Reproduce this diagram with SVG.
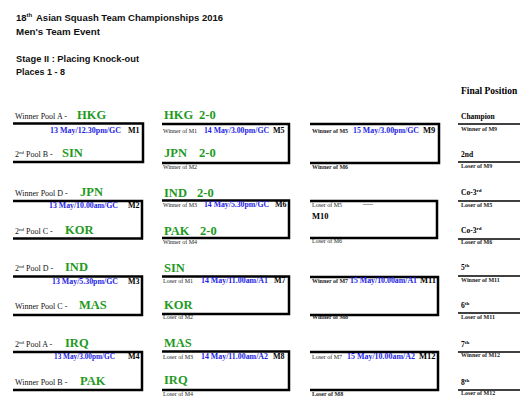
<svg xmlns="http://www.w3.org/2000/svg" width="520" height="407" viewBox="0 0 520 407">
<style>
text{font-family:"Liberation Serif","Times New Roman",serif;fill:#000}
.hdr{font-family:"Liberation Sans",Arial,sans-serif;font-weight:bold;font-size:9.5px;fill:#111}
.lbl{font-size:8px;fill:#111}
.sup{font-size:5px}
.team{font-weight:bold;font-size:12.5px;fill:#1f9a1f}
.date{font-weight:bold;font-size:8px;fill:#1e1ee6}
.mno{font-weight:bold;font-size:8px}
.mno3{font-weight:bold;font-size:8.5px}
.tiny{font-size:6px;fill:#222}
.tinyb{font-size:6px;font-weight:bold;fill:#222}
.pos{font-weight:bold;font-size:7.5px}
.br{fill:none;stroke:#000;stroke-width:2.5;stroke-linejoin:miter}
.fl{stroke:#000;stroke-width:1.5}
</style>

<g id="title">
<text class="hdr" x="16" y="21">18</text>
<text class="hdr" x="26.5" y="17" style="font-size:6px">th</text>
<text class="hdr" x="36" y="21" textLength="187" lengthAdjust="spacingAndGlyphs">Asian Squash Team Championships 2016</text>
<text class="hdr" x="16" y="35" textLength="84" lengthAdjust="spacingAndGlyphs">Men's Team Event</text>
<text class="hdr" x="16" y="62" textLength="123" lengthAdjust="spacingAndGlyphs">Stage II : Placing Knock-out</text>
<text class="hdr" x="16" y="75" textLength="49" lengthAdjust="spacingAndGlyphs">Places 1 - 8</text>
</g>

<g id="connectors">
<polyline class="br" points="13,123.5 143,123.5 143,162 13,162"/>
<polyline class="br" points="13,201 142,201 142,238.5 13,238.5"/>
<polyline class="br" points="13,276.5 142,276.5 142,315 13,315"/>
<polyline class="br" points="13,352 142,352 142,390 13,390"/>
<polyline class="br" points="162,124 289,124 289,163 162,163"/>
<polyline class="br" points="162,200.5 289,200.5 289,238 162,238"/>
<polyline class="br" points="162,276.5 289,276.5 289,314 162,314"/>
<polyline class="br" points="162,351.5 289,351.5 289,390 162,390"/>
<polyline class="br" points="310,124 439,124 439,163 310,163"/>
<polyline class="br" points="310,201 437,201 437,238 310,238"/>
<polyline class="br" points="310,277 438,277 438,315 310,315"/>
<polyline class="br" points="310,352 438,352 438,390 310,390"/>
</g>

<g id="M1">
<text class="lbl" x="15" y="119">Winner Pool A -</text>
<text class="team" x="77" y="119">HKG</text>
<text class="date" x="50" y="133" textLength="71" lengthAdjust="spacingAndGlyphs">13 May/12.30pm/GC</text>
<text class="mno" x="128" y="133">M1</text>
<text class="lbl" x="15" y="157">2<tspan class="sup" dy="-3">nd</tspan><tspan dy="3"> Pool B -</tspan></text>
<text class="team" x="62" y="157">SIN</text>
</g>

<g id="M2">
<text class="lbl" x="15" y="196">Winner Pool D -</text>
<text class="team" x="80" y="196">JPN</text>
<text class="date" x="49" y="208" textLength="69" lengthAdjust="spacingAndGlyphs">13 May/10.00am/GC</text>
<text class="mno" x="128" y="208">M2</text>
<text class="lbl" x="15" y="234">2<tspan class="sup" dy="-3">nd</tspan><tspan dy="3"> Pool C -</tspan></text>
<text class="team" x="65" y="234">KOR</text>
</g>

<g id="M3">
<text class="lbl" x="15" y="271">2<tspan class="sup" dy="-3">nd</tspan><tspan dy="3"> Pool D -</tspan></text>
<text class="team" x="65" y="271">IND</text>
<text class="date" x="52" y="284" textLength="66" lengthAdjust="spacingAndGlyphs">13 May/5.30pm/GC</text>
<text class="mno" x="128" y="284">M3</text>
<text class="lbl" x="15" y="309">Winner Pool C -</text>
<text class="team" x="79" y="309">MAS</text>
</g>

<g id="M4">
<text class="lbl" x="15" y="347">2<tspan class="sup" dy="-3">nd</tspan><tspan dy="3"> Pool A -</tspan></text>
<text class="team" x="65" y="347">IRQ</text>
<text class="date" x="54" y="359" textLength="61" lengthAdjust="spacingAndGlyphs">13 May/3.00pm/GC</text>
<text class="mno" x="128" y="359">M4</text>
<text class="lbl" x="15" y="385">Winner Pool B -</text>
<text class="team" x="80" y="385">PAK</text>
</g>

<g id="M5">
<text class="team" x="164" y="119">HKG</text>
<text class="team" x="199" y="119">2-0</text>
<text class="tiny" x="163" y="133">Winner of M1</text>
<text class="date" x="204" y="133" textLength="65" lengthAdjust="spacingAndGlyphs">14 May/3.00pm/GC</text>
<text class="mno" x="273" y="133">M5</text>
<text class="team" x="164" y="157">JPN</text>
<text class="team" x="199" y="157">2-0</text>
<text class="tiny" x="163" y="169">Winner of M2</text>
</g>

<g id="M6">
<text class="team" x="164" y="197">IND</text>
<text class="team" x="197" y="197">2-0</text>
<text class="tiny" x="163" y="207">Winner of M3</text>
<text class="date" x="204" y="207" textLength="65" lengthAdjust="spacingAndGlyphs">14 May/5.30pm/GC</text>
<text class="mno" x="275" y="207">M6</text>
<text class="team" x="164" y="235">PAK</text>
<text class="team" x="200" y="235">2-0</text>
<text class="tiny" x="163" y="244">Winner of M4</text>
</g>

<g id="M7">
<text class="team" x="164" y="272">SIN</text>
<text class="tiny" x="163" y="283">Loser of M1</text>
<text class="date" x="201" y="283" textLength="67" lengthAdjust="spacingAndGlyphs">14 May/11.00am/A1</text>
<text class="mno" x="274" y="283">M7</text>
<text class="team" x="164" y="309">KOR</text>
<text class="tiny" x="163" y="319">Loser of M2</text>
</g>

<g id="M8">
<text class="team" x="164" y="347">MAS</text>
<text class="tiny" x="163" y="359">Loser of M3</text>
<text class="date" x="201" y="359" textLength="67" lengthAdjust="spacingAndGlyphs">14 May/11.00am/A2</text>
<text class="mno" x="273" y="359">M8</text>
<text class="team" x="164" y="384">IRQ</text>
<text class="tiny" x="163" y="396">Loser of M4</text>
</g>

<g id="M9">
<text class="tinyb" x="312" y="133">Winner of M5</text>
<text class="date" x="353" y="133" textLength="66" lengthAdjust="spacingAndGlyphs">15 May/3.00pm/GC</text>
<text class="mno3" x="423" y="133">M9</text>
<text class="tinyb" x="312" y="169">Winner of M6</text>
</g>

<g id="M10">
<text class="tiny" x="312" y="207">Loser of M5</text>
<text class="tinyb" x="363" y="206">-----</text>
<text class="mno3" x="312" y="219">M10</text>
<text class="tiny" x="312" y="243">Loser of M6</text>
</g>

<g id="M11">
<text class="tinyb" x="312" y="283">Winner of M7</text>
<text class="date" x="350" y="283" textLength="67" lengthAdjust="spacingAndGlyphs">15 May/10.00am/A1</text>
<text class="mno3" x="420" y="283">M11</text>
<text class="tinyb" x="312" y="319">Winner of M8</text>
</g>

<g id="M12">
<text class="tiny" x="312" y="359">Loser of M7</text>
<text class="date" x="347" y="359" textLength="68" lengthAdjust="spacingAndGlyphs">15 May/10.00am/A2</text>
<text class="mno3" x="419" y="359">M12</text>
<text class="tinyb" x="312" y="396">Loser of M8</text>
</g>

<g id="final-position">
<text x="461" y="94" style="font-weight:bold;font-size:9.5px">Final Position</text>
<text class="pos" x="461" y="119">Champion</text>
<line class="fl" x1="458" y1="124" x2="520" y2="124"/>
<text class="tinyb" x="461" y="131">Winner of M9</text>
<text class="pos" x="461" y="157">2nd</text>
<line class="fl" x1="458" y1="162" x2="520" y2="162"/>
<text class="tinyb" x="461" y="168">Loser of M9</text>
<text class="pos" x="461" y="195">Co-3<tspan class="sup" dy="-3">rd</tspan></text>
<line class="fl" x1="458" y1="201" x2="520" y2="201"/>
<text class="tinyb" x="461" y="207">Loser of M5</text>
<text class="pos" x="461" y="233">Co-3<tspan class="sup" dy="-3">rd</tspan></text>
<line class="fl" x1="458" y1="239" x2="520" y2="239"/>
<text class="tinyb" x="461" y="244">Loser of M6</text>
<text class="pos" x="461" y="270">5<tspan class="sup" dy="-3">th</tspan></text>
<line class="fl" x1="458" y1="276" x2="520" y2="276"/>
<text class="tinyb" x="461" y="282">Winner of M11</text>
<text class="pos" x="461" y="308">6<tspan class="sup" dy="-3">th</tspan></text>
<line class="fl" x1="458" y1="313" x2="520" y2="313"/>
<text class="tinyb" x="461" y="319">Loser of M11</text>
<text class="pos" x="461" y="347">7<tspan class="sup" dy="-3">th</tspan></text>
<line class="fl" x1="458" y1="352" x2="520" y2="352"/>
<text class="tinyb" x="461" y="357">Winner of M12</text>
<text class="pos" x="461" y="385">8<tspan class="sup" dy="-3">th</tspan></text>
<line class="fl" x1="458" y1="390" x2="520" y2="390"/>
<text class="tinyb" x="461" y="395">Loser of M12</text>
</g>
</svg>
